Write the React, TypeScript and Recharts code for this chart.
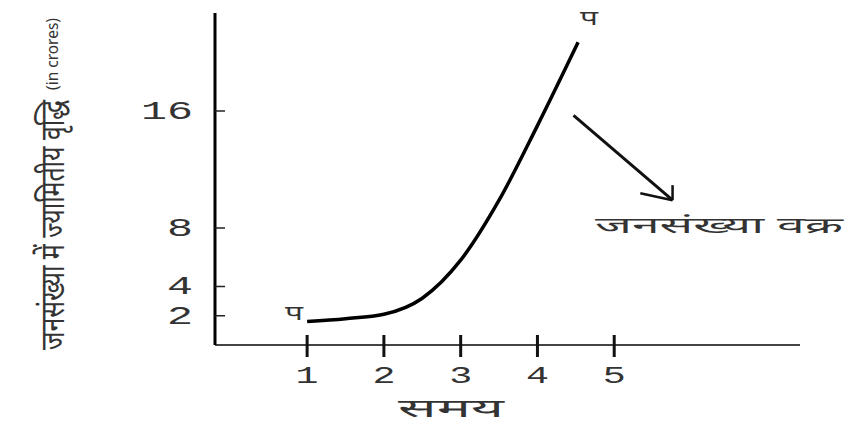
import { LineChart, Line, XAxis, YAxis, ReferenceLine, ReferenceDot, LabelList } from 'recharts'

// समय (x) और जनसंख्या (y, करोड़ में) – चित्र से पढ़े गए बिंदु
const timeValues = [1, 1.5, 2, 2.5, 3, 3.5, 4, 4.53]
const populationValues = [1.6, 1.8, 2.1, 3.2, 5.8, 9.9, 15.0, 20.7]
const xTicks = [1, 2, 3, 4, 5]
const yTicks = [2, 4, 8, 16]
const pointLabel = 'प'
const curveLabel = 'जनसंख्या वक्र'
const xTitle = 'समय'
const yTitle = 'जनसंख्या में ज्यामितीय वृद्धि'
const yUnit = '(in crores)'

// तीर: वक्र से लेबल की ओर
const arrowShaft = [{ x: 4.47, y: 15.7 }, { x: 5.76, y: 9.9 }]
const arrowHeadA = [{ x: 5.34, y: 10.38 }, { x: 5.76, y: 9.9 }]
const arrowHeadB = [{ x: 5.76, y: 10.93 }, { x: 5.76, y: 9.9 }]
const curveLabelAt = { x: 4.75, y: 7.65 }

const data = timeValues.map((t, i) => ({ t, p: populationValues[i] }))

const monoFont = '"Liberation Mono", "DejaVu Sans Mono", monospace'
const hindiFont = '"Noto Sans", "DejaVu Sans", sans-serif'
const textColor = '#333'

function YTick({ x, y, payload }: any) {
  const s = String(payload.value)
  return (
    <g>
      <line x1={x} x2={x + 10} y1={y} y2={y} stroke="#222" strokeWidth={1.5} />
      <text
        x={x - 22}
        y={y + 8}
        textAnchor="end"
        fontFamily={monoFont}
        fontSize={26}
        fill={textColor}
        textLength={s.length * 26}
        lengthAdjust="spacingAndGlyphs"
      >
        {s}
      </text>
    </g>
  )
}

function XTick({ x, y, payload }: any) {
  const s = String(payload.value)
  return (
    <g>
      <line x1={x} x2={x} y1={y - 10} y2={y + 12} stroke="#111" strokeWidth={3} />
      <text
        x={x}
        y={y + 38}
        textAnchor="middle"
        fontFamily={monoFont}
        fontSize={23}
        fill={textColor}
        textLength={s.length * 23}
        lengthAdjust="spacingAndGlyphs"
      >
        {s}
      </text>
    </g>
  )
}

function EndLabels(props: any) {
  const { x, y, index } = props
  if (index === 0) {
    return (
      <text x={x - 4} y={y - 2} textAnchor="end" fontFamily={hindiFont} fontSize={20} fill={textColor}
        textLength={18} lengthAdjust="spacingAndGlyphs">
        {pointLabel}
      </text>
    )
  }
  if (index === data.length - 1) {
    return (
      <text x={x + 2} y={y - 17} textAnchor="start" fontFamily={hindiFont} fontSize={20} fill={textColor}
        textLength={18} lengthAdjust="spacingAndGlyphs">
        {pointLabel}
      </text>
    )
  }
  return null
}

function YTitle({ viewBox }: any) {
  const bx = 64
  const bottom = viewBox.y + viewBox.height + 5
  return (
    <g>
      <text transform={`translate(${bx},${bottom}) rotate(-90)`} fontFamily={hindiFont} fontSize={34}
        fill={textColor} textLength={250} lengthAdjust="spacingAndGlyphs">
        {yTitle}
      </text>
      <text transform={`translate(${bx - 6},${bottom - 260}) rotate(-90)`} fontFamily={hindiFont} fontSize={16}
        fill={textColor} textLength={72} lengthAdjust="spacingAndGlyphs">
        {yUnit}
      </text>
    </g>
  )
}

function XTitle() {
  return (
    <text x={398} y={417} fontFamily={hindiFont} fontSize={25} fill={textColor}
      textLength={106} lengthAdjust="spacingAndGlyphs">
      {xTitle}
    </text>
  )
}

function CurveText({ viewBox }: any) {
  const x = viewBox.x + (viewBox.width || 0) / 2
  const y = viewBox.y + (viewBox.height || 0) / 2
  return (
    <text x={x} y={y} fontFamily={hindiFont} fontSize={22} fill={textColor}
      textLength={248} lengthAdjust="spacingAndGlyphs">
      {curveLabel}
    </text>
  )
}

export default function App() {
  return (
    <div style={{ position: 'absolute', left: 0, top: 0, width: 850, height: 424, background: '#fff' }}>
      <LineChart width={850} height={424} data={data} margin={{ top: 13, right: 50, left: 155, bottom: 49 }}>
        <XAxis
          dataKey="t"
          type="number"
          domain={[-0.2, 7.42]}
          ticks={xTicks}
          allowDataOverflow
          height={30}
          tickLine={false}
          tickSize={0}
          tickMargin={0}
          tick={<XTick />}
          axisLine={{ stroke: '#444', strokeWidth: 2 }}
          label={<XTitle />}
        />
        <YAxis
          type="number"
          domain={[0, 22.7]}
          ticks={yTicks}
          allowDataOverflow
          width={60}
          tickLine={false}
          tickSize={0}
          tickMargin={0}
          tick={<YTick />}
          axisLine={{ stroke: '#000', strokeWidth: 3 }}
          label={<YTitle />}
        />
        <ReferenceLine segment={arrowShaft} stroke="#111" strokeWidth={3} />
        <ReferenceLine segment={arrowHeadA} stroke="#111" strokeWidth={2.5} />
        <ReferenceLine segment={arrowHeadB} stroke="#111" strokeWidth={2.5} />
        <ReferenceDot x={curveLabelAt.x} y={curveLabelAt.y} r={0.5} fill="none" stroke="none" label={<CurveText />} />
        <Line
          type="monotone"
          dataKey="p"
          stroke="#000"
          strokeWidth={3.5}
          dot={false}
          isAnimationActive={false}
        >
          <LabelList dataKey="p" content={<EndLabels />} />
        </Line>
      </LineChart>
    </div>
  )
}
